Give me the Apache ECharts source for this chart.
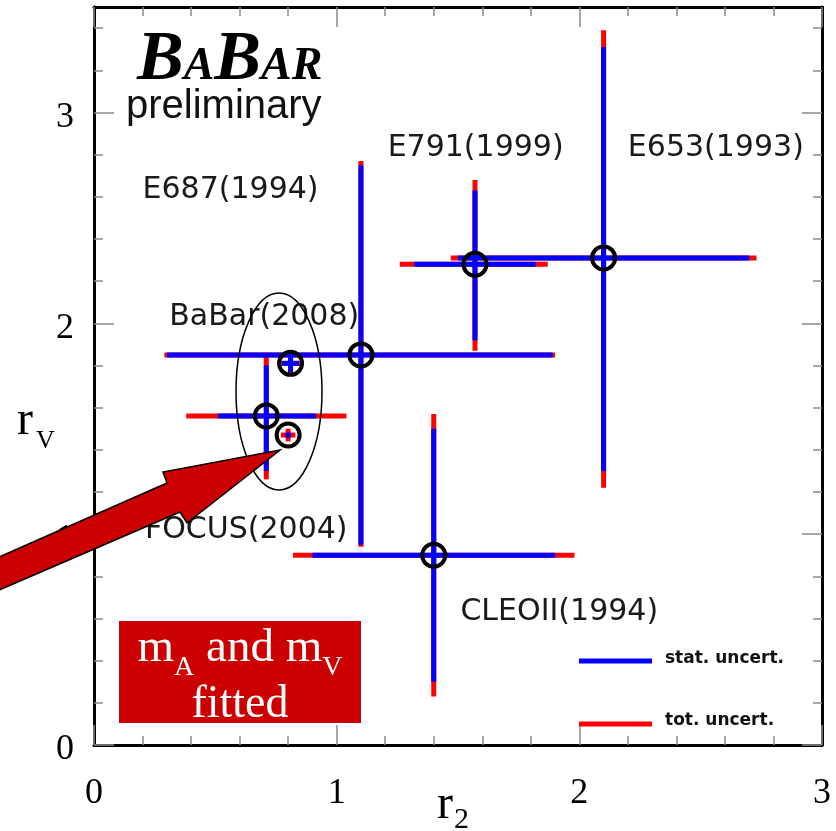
<!DOCTYPE html>
<html>
<head>
<meta charset="utf-8">
<script src="https://cdn.jsdelivr.net/npm/echarts@6.0.0/dist/echarts.min.js"></script>
<style>
  html, body { margin: 0; padding: 0; background: #fff; }
  #chart { width: 836px; height: 831px; }
</style>
</head>
<body>
<div id="chart"></div>
<script>
// form factor ratios r2 vs rV, one entry per measurement
const experiments = ['E653(1993)', 'E791(1999)', 'E687(1994)', 'CLEOII(1994)', 'FOCUS(2004)', 'BaBar(2008)', 'BaBar(2008) mA, mV fitted'];
const r2 = [2.10, 1.57, 1.10, 1.40, 0.71, 0.81, 0.80];
const rV = [2.31, 2.28, 1.85, 0.90, 1.56, 1.81, 1.47];
// [low, high] ends of the error bars
const r2Stat = [[1.50, 2.70], [1.32, 1.82], [0.30, 1.89], [0.90, 1.90], [0.51, 0.915], [0.775, 0.845], [0.79, 0.81]];
const r2Tot = [[1.47, 2.73], [1.26, 1.87], [0.29, 1.90], [0.82, 1.98], [0.38, 1.04], [0.77, 0.85], [0.77, 0.83]];
const rVStat = [[1.30, 3.31], [1.92, 2.63], [0.95, 2.75], [0.30, 1.50], [1.30, 1.80], [1.77, 1.85], [1.46, 1.48]];
const rVTot = [[1.22, 3.39], [1.87, 2.68], [0.94, 2.77], [0.23, 1.57], [1.26, 1.84], [1.75, 1.87], [1.44, 1.50]];

// experiment labels, placed at (r2, rV) of their left edge
const labelText = ['E653(1993)', 'E791(1999)', 'E687(1994)', 'BaBar(2008)', 'FOCUS(2004)', 'CLEOII(1994)'];
const labelR2 = [2.20, 1.21, 0.20, 0.31, 0.21, 1.51];
const labelRV = [2.83, 2.83, 2.63, 2.03, 1.02, 0.63];

const yTicks = [0, 1, 2, 3];
const yMinorTicks = [0.2, 0.4, 0.6, 0.8, 1.2, 1.4, 1.6, 1.8, 2.2, 2.4, 2.6, 2.8, 3.2, 3.4];

const sans = 'DejaVu Sans';
const serif = 'Liberation Serif';

const chart = echarts.init(document.getElementById('chart'), null, { renderer: 'canvas' });

const points = experiments.map((name, i) => [
  r2[i], rV[i],
  r2Stat[i][0], r2Stat[i][1], rVStat[i][0], rVStat[i][1],
  r2Tot[i][0], r2Tot[i][1], rVTot[i][0], rVTot[i][1]
]);

// cross shaped error bar, off = index of first column (x low)
const errorBars = (color, off) => (params, api) => {
  const c = api.coord([api.value(0), api.value(1)]);
  const xl = api.coord([api.value(off), api.value(1)]);
  const xh = api.coord([api.value(off + 1), api.value(1)]);
  const yl = api.coord([api.value(0), api.value(off + 2)]);
  const yh = api.coord([api.value(0), api.value(off + 3)]);
  return {
    type: 'group',
    children: [
      { type: 'line', shape: { x1: xl[0], y1: c[1], x2: xh[0], y2: c[1] }, style: { stroke: color, lineWidth: 5 } },
      { type: 'line', shape: { x1: c[0], y1: yl[1], x2: c[0], y2: yh[1] }, style: { stroke: color, lineWidth: 5 } }
    ]
  };
};

// free text placed on a baseline, pieces laid out left to right (for sub/small caps)
const measureCtx = document.createElement('canvas').getContext('2d');
const fontOf = (p) => `${p.style || 'normal'} ${p.weight || 'normal'} ${p.size}px "${p.family}"`;
function textRun(parts, x, baseline, align, z) {
  const widths = parts.map(p => { measureCtx.font = fontOf(p); return measureCtx.measureText(p.text).width; });
  const total = widths.reduce((a, b) => a + b, 0);
  let cx = align === 'center' ? x - total / 2 : x;
  return parts.map((p, i) => {
    measureCtx.font = fontOf(p);
    measureCtx.textBaseline = 'middle';
    const off = measureCtx.measureText('H').actualBoundingBoxDescent;
    const el = {
      type: 'text', x: cx, y: baseline + (p.dy || 0) - off, z: z || 50,
      style: {
        text: p.text, fontFamily: p.family, fontSize: p.size,
        fontWeight: p.weight || 'normal', fontStyle: p.style || 'normal',
        fill: p.fill || '#000', verticalAlign: 'middle'
      }
    };
    cx += widths[i];
    return el;
  });
}

const frameLine = { show: true, onZero: false, lineStyle: { color: '#000', width: 3 } };
const tickStyle = { color: '#8c8c8c', width: 1.5 };
const axisTick = { show: true, inside: true, length: 20, lineStyle: tickStyle };
const minorTick = { show: true, splitNumber: 5, length: 9, lineStyle: tickStyle };
const tickFont = { color: '#000', fontFamily: serif, fontSize: 36 };

const yMajor = (position, labels) => ({
  type: 'value', gridIndex: 0, min: 0, max: 3.5, position,
  axisLine: frameLine,
  axisTick: { ...axisTick, customValues: yTicks },
  splitLine: { show: false },
  axisLabel: labels
    ? { ...tickFont, margin: 20, verticalAlign: 'top', lineHeight: 10, customValues: yTicks }
    : { show: false }
});
const yMinor = (position) => ({
  type: 'value', gridIndex: 1, min: 0, max: 3.5, position,
  axisLine: { show: false },
  axisTick: { show: true, inside: true, length: 9, lineStyle: tickStyle, customValues: yMinorTicks },
  splitLine: { show: false },
  axisLabel: { show: false }
});

const option = {
  animation: false,
  backgroundColor: '#fff',
  grid: [
    { left: 94, right: 14, top: 7, bottom: 86 },
    { left: 94, right: 14, top: 7, bottom: 86 }
  ],
  xAxis: [
    {
      type: 'value', gridIndex: 0, min: 0, max: 3, interval: 1, position: 'bottom',
      axisLine: frameLine, axisTick, minorTick, splitLine: { show: false },
      axisLabel: { ...tickFont, margin: 31 }
    },
    {
      type: 'value', gridIndex: 1, min: 0, max: 3, interval: 1, position: 'top',
      axisLine: frameLine, axisTick, minorTick, splitLine: { show: false },
      axisLabel: { show: false }
    }
  ],
  yAxis: [yMajor('left', true), yMajor('right', false), yMinor('left'), yMinor('right')],
  series: [
    {
      type: 'scatter',
      data: labelText.map((t, i) => ({ name: t, value: [labelR2[i], labelRV[i]] })),
      symbolSize: 0,
      silent: true,
      z: 1,
      itemStyle: { opacity: 1 },
      label: {
        show: true, position: 'right', distance: 0, formatter: '{b}',
        fontFamily: sans, fontSize: 30, color: '#1a1a1a', padding: [8, 0, 0, 0]
      }
    },
    { type: 'custom', renderItem: errorBars('#ff0000', 6), data: points, z: 2, silent: true },
    { type: 'custom', renderItem: errorBars('#0000ff', 2), data: points, z: 3, silent: true },
    {
      type: 'scatter',
      data: points.map(p => [p[0], p[1]]),
      symbol: 'circle',
      symbolSize: 23,
      silent: true,
      z: 4,
      itemStyle: { color: 'rgba(0,0,0,0)', borderColor: '#000', borderWidth: 4, opacity: 1 }
    }
  ],
  graphic: [
    // BaBar logo
    ...textRun([
      { text: 'B', family: serif, size: 70, weight: 'bold', style: 'italic' },
      { text: 'A', family: serif, size: 46, weight: 'bold', style: 'italic' },
      { text: 'B', family: serif, size: 70, weight: 'bold', style: 'italic' },
      { text: 'AR', family: serif, size: 46, weight: 'bold', style: 'italic' }
    ], 137, 79, 'left'),
    ...textRun([{ text: 'preliminary', family: 'Liberation Sans', size: 40, fill: '#111' }], 126, 118, 'left'),
    // axis titles
    ...textRun([{ text: 'r', family: serif, size: 48 }], 17, 434, 'left'),
    ...textRun([{ text: 'V', family: serif, size: 26 }], 36, 448, 'left'),
    ...textRun([{ text: 'r', family: serif, size: 48 }], 437, 818, 'left'),
    ...textRun([{ text: '2', family: serif, size: 30 }], 454, 828, 'left'),
    // legend
    { type: 'line', z: 50, shape: { x1: 579, y1: 661, x2: 652, y2: 661 }, style: { stroke: '#0000ff', lineWidth: 5 } },
    { type: 'line', z: 50, shape: { x1: 579, y1: 724, x2: 652, y2: 724 }, style: { stroke: '#ff0000', lineWidth: 5 } },
    ...textRun([{ text: 'stat. uncert.', family: sans, size: 17, weight: 'bold', fill: '#111' }], 665, 663, 'left'),
    ...textRun([{ text: 'tot. uncert.', family: sans, size: 17, weight: 'bold', fill: '#111' }], 665, 725, 'left'),
    // ellipse around the FOCUS / BaBar points
    {
      type: 'ellipse', z: 55,
      shape: { cx: 279, cy: 391.5, rx: 43, ry: 98.5 },
      style: { fill: 'none', stroke: '#000', lineWidth: 1.5 }
    },
    // big red arrow
    {
      type: 'polygon', z: 60,
      shape: { points: [[-10, 561], [167, 483], [163, 472], [280, 450], [187, 523], [180, 512], [-10, 594]] },
      style: { fill: '#cc0000', stroke: '#000', lineWidth: 1.5 }
    },
    // red note box
    {
      type: 'rect', z: 60,
      shape: { x: 119, y: 621, width: 242, height: 102 },
      style: { fill: '#cc0000' }
    },
    ...textRun([
      { text: 'm', family: serif, size: 47, fill: '#fff' },
      { text: 'A', family: serif, size: 28, fill: '#fff', dy: 14 },
      { text: ' and m', family: serif, size: 47, fill: '#fff' },
      { text: 'V', family: serif, size: 28, fill: '#fff', dy: 14 }
    ], 240, 661, 'center', 61),
    ...textRun([{ text: 'fitted', family: serif, size: 46, fill: '#fff' }], 240, 717, 'center', 61)
  ]
};

chart.setOption(option);
</script>
</body>
</html>
